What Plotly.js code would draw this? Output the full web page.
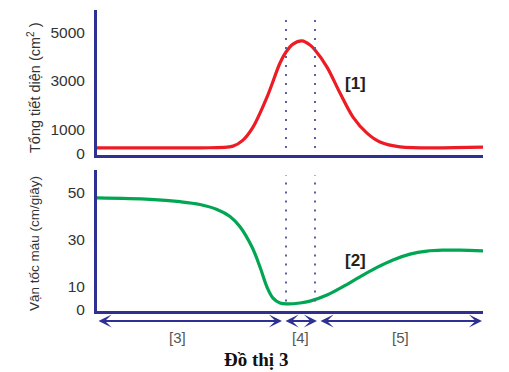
<!DOCTYPE html>
<html>
<head>
<meta charset="utf-8">
<script src="https://cdn.plot.ly/plotly-3.0.1.min.js"></script>
<style>html,body{margin:0;padding:0;background:#fff;}#chart{width:509px;height:372px;}</style>
</head>
<body>
<div id="chart"></div>
<script>
// Position along the vessel system (arbitrary units)
const xArea = [0, 60, 103, 136, 146, 156, 170, 183, 189, 196, 205, 213, 218, 230, 243, 256, 270, 283, 303, 386];
// [1] Total cross-sectional area (cm2)
const areaVals = [220, 220, 220, 290, 540, 1080, 2330, 3750, 4210, 4540, 4670, 4500, 4290, 3580, 2500, 1500, 830, 460, 260, 250];

const xVel = [0, 53, 83, 103, 120, 133, 143, 155, 163, 170, 176, 183, 190, 203, 213, 230, 246, 263, 280, 296, 313, 330, 346, 363, 386];
// [2] Blood velocity (cm/s)
const velocityVals = [47.9, 47.3, 46.3, 45.1, 43.0, 40.0, 35.6, 26.9, 18.4, 9.8, 5.1, 3.0, 2.6, 3.0, 3.8, 6.4, 10.0, 14.2, 18.2, 21.4, 23.9, 25.2, 25.6, 25.6, 25.3];

const areaTicks = [0, 1000, 3000, 5000];
const velocityTicks = [0, 10, 30, 50];

// boundaries of region [4] (dotted lines)
const dividers = [189, 218];
// segments shown by arrows under the chart
const segStart = [0, 187, 222];
const segEnd = [185, 220, 385];
const segLabels = ['[3]', '[4]', '[5]'];
const curveLabels = ['[1]', '[2]'];
const title = 'Đồ thị 3';
const areaTitle = 'Tổng tiết diện (cm<sup>2</sup> )';
const velTitle = 'Vận tốc máu (cm/giây)';

const AX = '#2e3192';
const DOT = '#5b5ea6';
const TXT = '#333333';

const traces = [
  {x: xArea, y: areaVals, xaxis: 'x2', yaxis: 'y2', mode: 'lines',
   line: {color: '#ed1c24', width: 3.2, shape: 'spline', smoothing: 0.9}, hoverinfo: 'skip'},
  {x: xVel, y: velocityVals, xaxis: 'x', yaxis: 'y', mode: 'lines',
   line: {color: '#00a651', width: 3.2, shape: 'spline', smoothing: 1}, hoverinfo: 'skip'}
];

const shapes = [];
dividers.forEach(d => {
  shapes.push({type: 'line', xref: 'x2', yref: 'y2', x0: d, x1: d, y0: 210, y1: 5830,
    line: {color: DOT, width: 2, dash: '2px,7px'}});
  shapes.push({type: 'line', xref: 'x', yref: 'y', x0: d, x1: d, y0: 3.6, y1: 57.7,
    line: {color: DOT, width: 2, dash: '2px,7px'}});
});

const annotations = [];
segStart.forEach((s, i) => {
  annotations.push({xref: 'x', yref: 'paper', x: segEnd[i], y: -0.0332, ax: s, ay: -0.0332,
    axref: 'x', ayref: 'paper', showarrow: true, arrowhead: 3, arrowside: 'end+start',
    arrowsize: 1.1, arrowwidth: 2, arrowcolor: AX, text: ''});
  annotations.push({xref: 'x', yref: 'paper', x: (s + segEnd[i]) / 2 + (i === 0 ? -12 : 0), y: -0.0864,
    xanchor: 'center', yanchor: 'middle',
    text: segLabels[i], showarrow: false, font: {family: 'Liberation Sans, Arial', size: 15, color: '#555'}});
});
annotations.push({xref: 'x2', yref: 'y2', x: 258, y: 2900, text: '<b>' + curveLabels[0] + '</b>', showarrow: false,
  xanchor: 'center', yanchor: 'middle', font: {family: 'Liberation Sans, Arial', size: 17, color: '#222'}});
annotations.push({xref: 'x', yref: 'y', x: 258, y: 21, text: '<b>' + curveLabels[1] + '</b>', showarrow: false,
  xanchor: 'center', yanchor: 'middle', font: {family: 'Liberation Sans, Arial', size: 17, color: '#222'}});
annotations.push({xref: 'paper', yref: 'paper', x: (256 - 97) / 386, y: (311 - 359) / 301, text: '<b>' + title + '</b>',
  xanchor: 'center', yanchor: 'middle',
  showarrow: false, font: {family: 'Liberation Serif, Times New Roman', size: 19, color: '#111'}});
annotations.push({xref: 'paper', yref: 'paper', x: (34 - 97) / 386, y: (311 - 88) / 301, text: areaTitle, textangle: -90,
  xanchor: 'center', yanchor: 'middle',
  showarrow: false, font: {family: 'Liberation Sans, Arial', size: 14.5, color: TXT}});
annotations.push({xref: 'paper', yref: 'paper', x: (34 - 97) / 386, y: (311 - 244) / 301, text: velTitle, textangle: -90,
  xanchor: 'center', yanchor: 'middle',
  showarrow: false, font: {family: 'Liberation Sans, Arial', size: 13.5, color: TXT}});

const axisCommon = {showgrid: false, zeroline: false, showline: true, linecolor: AX, linewidth: 3,
  ticks: '', tickfont: {family: 'Liberation Sans, Arial', size: 15.5, color: TXT}};

const layout = {
  width: 509, height: 372,
  margin: {l: 97, r: 26, t: 10, b: 61},
  paper_bgcolor: '#fff', plot_bgcolor: '#fff',
  showlegend: false,
  xaxis: Object.assign({}, axisCommon, {domain: [0, 1], range: [0, 386], anchor: 'y', showticklabels: false}),
  xaxis2: Object.assign({}, axisCommon, {domain: [0, 1], range: [0, 386], anchor: 'y2', showticklabels: false}),
  yaxis: Object.assign({}, axisCommon, {domain: [0, 0.468], range: [-0.43, 59.8], anchor: 'x',
    tickmode: 'array', tickvals: velocityTicks, ticktext: velocityTicks.map(String), ticklabelstandoff: 6}),
  yaxis2: Object.assign({}, axisCommon, {domain: [0.518, 1], range: [-83, 5958], anchor: 'x2',
    tickmode: 'array', tickvals: areaTicks, ticktext: areaTicks.map(String), ticklabelstandoff: 6}),
  shapes: shapes,
  annotations: annotations
};

Plotly.newPlot('chart', traces, layout, {staticPlot: true, displayModeBar: false});
</script>
</body>
</html>
